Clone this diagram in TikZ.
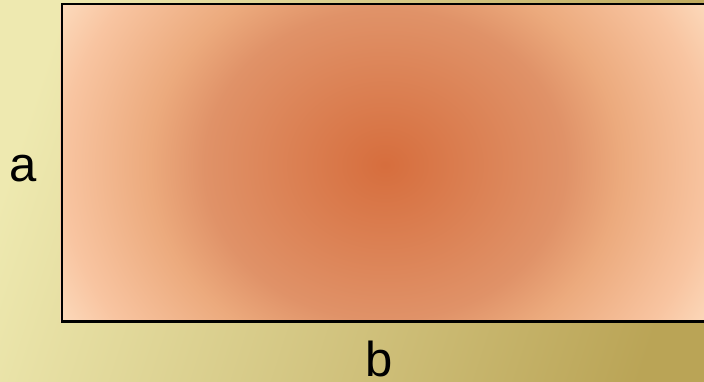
\documentclass[tikz,border=0pt]{standalone}
\usepackage{fontspec}
\setmainfont{Liberation Sans}
\definecolor{bgL}{RGB}{238,233,176}
\definecolor{bgR}{RGB}{186,164,86}
\definecolor{boxedge}{RGB}{252,218,188}
\pgfdeclareradialshading{boxglow}{\pgfpoint{0bp}{0bp}}{%
  rgb(0bp)=(0.84,0.43,0.24);
  rgb(10.75bp)=(0.878,0.573,0.408);
  rgb(14bp)=(0.925,0.667,0.49);
  rgb(19.25bp)=(0.973,0.77,0.63);
  rgb(22.25bp)=(0.988,0.855,0.737);
  rgb(50bp)=(0.988,0.855,0.737)}
\tikzset{
  lbl/.style={font=\fontsize{49}{50}\selectfont, anchor=base, inner sep=0pt},
  boxline/.style={draw=black, line width=2.5pt}
}
\begin{document}
\begin{tikzpicture}[x=1pt,y=1pt]
\useasboundingbox (0,0) rectangle (704,381);
\clip (0,0) rectangle (704,381);
\shade[left color=bgL, right color=bgR, shading angle=72] (-20,-20) rectangle (724,401);
\coordinate (c) at (385,216);
\begin{scope}
  \clip (60.5,58.5) rectangle (712,375.5);
  \fill[boxedge] (60.5,58.5) rectangle (712,375.5);
  \shade[shading=boxglow] (c) ellipse [x radius=420, y radius=360];
\end{scope}
\node[boxline, minimum width=651.5pt, minimum height=317pt, inner sep=0pt, anchor=south west] (box) at (60.5,58.5) {};
\node[lbl] (a) at (23,200) {a};
\node[lbl] (b) at (379,5) {b};
\end{tikzpicture}
\end{document}
